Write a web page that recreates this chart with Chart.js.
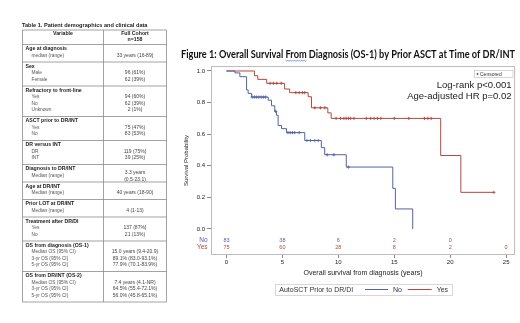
<!DOCTYPE html>
<html><head><meta charset="utf-8">
<script src="https://cdn.jsdelivr.net/npm/chart.js@4/dist/chart.umd.min.js"></script>
<style>html,body{margin:0;padding:0;background:#fff;overflow:hidden}#wrap{position:relative;width:520px;height:323px}</style>
</head><body><div id="wrap"><canvas id="c" width="520" height="323"></canvas></div>
<script>
// ---- Kaplan-Meier data ----
const noTimes  = [0, 0.76, 1.2, 1.8, 1.94, 2.25, 3.73, 4.03, 4.32, 4.47, 4.62, 4.92, 5.37, 7.0, 8.48, 8.78, 10.71, 14.87, 15.1, 16.65];
const noSurv   = [1.0, 0.988, 0.964, 0.88, 0.858, 0.835, 0.815, 0.78, 0.745, 0.72, 0.655, 0.635, 0.61, 0.56, 0.515, 0.47, 0.392, 0.257, 0.127, 0.0];
const yesTimes = [0, 2.5, 2.8, 3.6, 5.2, 5.65, 7.3, 7.6, 9.06, 9.36, 19.15, 20.95, 23.9];
const yesSurv  = [1.0, 0.97, 0.947, 0.922, 0.886, 0.863, 0.837, 0.767, 0.735, 0.70, 0.465, 0.232, 0.232];
const noCensor  = [2.3, 2.5, 2.7, 2.9, 3.1, 3.3, 3.5, 4.4, 5.5, 5.7, 5.9, 6.1, 6.5, 7.2, 7.5, 7.9, 8.2, 9.0, 9.6, 10.9];
const yesCensor = [3.9, 4.2, 4.5, 4.9, 6.2, 6.5, 6.8, 7.0, 7.9, 8.4, 8.8, 9.8, 10.2, 10.5, 10.7, 10.9, 11.1, 11.4, 12.5, 12.9, 13.2, 13.5, 13.8, 15.0, 16.3, 17.7, 18.0, 18.3, 23.9];
const riskTimes = [0, 5, 10, 15, 20, 25];
const riskNo  = [83, 38, 6, 2, 0];
const riskYes = [75, 60, 28, 8, 2, 0];
const xTicks = [0, 5, 10, 15, 20, 25];
const yTicks = [0, 0.2, 0.4, 0.6, 0.8, 1.0];
const groupNames = ["No", "Yes"];

// ---- Table data ----
const tableTitle = "Table 1. Patient demographics and clinical data";
const tableHeader = ["Variable", "Full Cohort", "n=158"];
const tableGroups = ["Age at diagnosis", "Sex", "Refractory to front-line", "ASCT prior to DR/INT", "DR versus INT", "Diagnosis to DR/INT", "Age at DR/INT", "Prior LOT at DR/INT", "Treatment after DR/DI", "OS from diagnosis (OS-1)", "OS from DR/INT (OS-2)"];
const tableSubs = [["median (range)"], ["Male", "Female"], ["Yes", "No", "Unknown"], ["Yes", "No"], ["DR", "INT"], ["Median (range)"], ["Median (range)"], ["Median (range)"], ["Yes", "No"], ["Median OS (95% CI)", "3-yr OS (95% CI)", "5-yr OS (95% CI)"], ["Median OS (95% CI)", "3-yr OS (95% CI)", "5-yr OS (95% CI)"]];
const tableVals = [["33 years (16-89)"], ["96 (61%)", "62 (39%)"], ["94 (60%)", "62 (39%)", "2 (1%)"], ["75 (47%)", "83 (53%)"], ["119 (75%)", "39 (25%)"], ["3.3 years", "(0.5-23.1)"], ["40 years (18-90)"], ["4 (1-13)"], ["137 (87%)", "21 (13%)"], ["15.0 years (9.4-20.9)", "89.1% (83.0-93.1%)", "77.9% (70.1-83.9%)"], ["7.4 years (4.1-NR)", "64.5% (55.4-72.1%)", "56.0% (45.8-65.1%)"]];

const figTitle = "Figure 1: Overall Survival From Diagnosis (OS-1) by Prior ASCT at Time of DR/INT";
const statLines = ["Log-rank p<0.001", "Age-adjusted HR p=0.02"];

const BLUE = '#5262a6', RED = '#b5473c';
const FONT = 'Liberation Sans, Arial, sans-serif';

function survAt(t, times, surv) { let s = surv[0]; for (let i = 0; i < times.length; i++) { if (times[i] <= t) s = surv[i]; } return s; }
const toPts = (t, s) => t.map((v, i) => ({x: v, y: s[i]}));

function drawTable(ctx) {
  const L = 22.5, M = 103.5, R = 166.5, top = 30, headBot = 44.5, lineH = 6.5;
  ctx.save();
  ctx.fillStyle = '#222'; ctx.textBaseline = 'middle';
  ctx.font = 'bold 5.6px ' + FONT; ctx.textAlign = 'left';
  ctx.fillText(tableTitle, 22, 25.3);
  ctx.textAlign = 'center'; ctx.font = 'bold 5.2px ' + FONT;
  ctx.fillText(tableHeader[0], (L + M) / 2, 34);
  ctx.fillText(tableHeader[1], (M + R) / 2, 34);
  ctx.fillText(tableHeader[2], (M + R) / 2, 40);
  let y = headBot;
  const hLines = [top, headBot];
  tableGroups.forEach((g, i) => {
    const subs = tableSubs[i], vals = tableVals[i];
    const h = 11 + lineH * subs.length;
    ctx.textAlign = 'left'; ctx.fillStyle = '#222'; ctx.font = 'bold 5.2px ' + FONT;
    ctx.fillText(g, 25.5, y + 4.3);
    ctx.font = '4.8px ' + FONT; ctx.fillStyle = '#555';
    subs.forEach((s, j) => ctx.fillText(s, 31.5, y + 4.3 + lineH * (j + 1)));
    const midSub = y + 4.3 + lineH * ((subs.length + 1) / 2);
    ctx.textAlign = 'center'; ctx.fillStyle = '#444'; ctx.font = '5px ' + FONT;
    const v0 = midSub - lineH * (vals.length - 1) / 2;
    vals.forEach((v, j) => ctx.fillText(v, (M + R) / 2, v0 + lineH * j + (vals.length !== subs.length ? 0.8 : 0)));
    y += h;
    hLines.push(y);
  });
  ctx.strokeStyle = '#8a8a8a'; ctx.lineWidth = 0.8;
  hLines.forEach(v => { ctx.beginPath(); ctx.moveTo(L, v); ctx.lineTo(R, v); ctx.stroke(); });
  ctx.beginPath(); ctx.moveTo(L, top); ctx.lineTo(L, y); ctx.moveTo(M, top); ctx.lineTo(M, y); ctx.moveTo(R, top); ctx.lineTo(R, y); ctx.stroke();
  ctx.restore();
}

const overlay = {
  id: 'overlay',
  beforeDraw(chart) {
    const ctx = chart.ctx;
    ctx.save(); ctx.fillStyle = '#fff'; ctx.fillRect(0, 0, chart.width, chart.height); ctx.restore();
    drawTable(ctx);
    // figure title, fitted to the width of the original
    ctx.save();
    ctx.font = 'bold 10.5px Lato, "Open Sans", sans-serif';
    const w = ctx.measureText(figTitle).width;
    const sx = 334 / w;
    ctx.translate(181, 54.5); ctx.scale(sx, 1);
    ctx.fillStyle = '#111'; ctx.textBaseline = 'middle'; ctx.textAlign = 'left';
    ctx.fillText(figTitle, 0, 0);
    const pre = ctx.measureText(figTitle.slice(0, figTitle.indexOf('From'))).width;
    const fw = ctx.measureText('From').width;
    ctx.strokeStyle = '#4a78c8'; ctx.lineWidth = 0.8;
    ctx.beginPath();
    for (let k = 0; k <= fw; k += 1) { const yy = 6.0 + ((k % 2) ? 0.6 : -0.2); if (k === 0) ctx.moveTo(pre + k, yy); else ctx.lineTo(pre + k, yy); }
    ctx.stroke();
    ctx.restore();
  },
  afterDraw(chart) {
    const ctx = chart.ctx, xs = chart.scales.x, ys = chart.scales.y, a = chart.chartArea;
    ctx.save();
    // frame
    ctx.strokeStyle = '#bdbdbd'; ctx.lineWidth = 1;
    ctx.strokeRect(a.left + 0.5, a.top + 0.5, a.right - a.left - 1, a.bottom - a.top - 1);
    // at-risk rows
    const rowNo = ys.getPixelForValue(-0.0715), rowYes = ys.getPixelForValue(-0.118);
    ctx.textBaseline = 'middle'; ctx.textAlign = 'center'; ctx.font = '5.5px ' + FONT;
    ctx.fillStyle = BLUE; riskNo.forEach((n, i) => ctx.fillText(String(n), xs.getPixelForValue(riskTimes[i]), rowNo));
    ctx.fillStyle = RED; riskYes.forEach((n, i) => ctx.fillText(String(n), xs.getPixelForValue(riskTimes[i]), rowYes));
    ctx.textAlign = 'right'; ctx.font = '6.5px ' + FONT;
    ctx.fillStyle = BLUE; ctx.fillText(groupNames[0], 207.5, rowNo);
    ctx.fillStyle = RED; ctx.fillText(groupNames[1], 207.5, rowYes);
    // censored key
    ctx.strokeStyle = '#cccccc'; ctx.lineWidth = 0.8;
    ctx.strokeRect(474.5, 70.5, 38.5, 7);
    ctx.strokeStyle = '#333'; ctx.lineWidth = 0.6;
    ctx.beginPath(); ctx.moveTo(476.3, 74); ctx.lineTo(478.7, 74); ctx.moveTo(477.5, 72.8); ctx.lineTo(477.5, 75.2); ctx.stroke();
    ctx.fillStyle = '#333'; ctx.textAlign = 'left'; ctx.font = '5px ' + FONT;
    ctx.fillText('Censored', 480, 74.2);
    // statistics
    ctx.fillStyle = '#222'; ctx.textAlign = 'right'; ctx.font = '9.5px ' + FONT;
    ctx.fillText(statLines[0], 511.5, 85);
    ctx.fillText(statLines[1], 511.5, 96.5);
    // legend
    ctx.strokeStyle = '#cfcfcf'; ctx.lineWidth = 0.8;
    ctx.strokeRect(275.5, 284.5, 177, 11);
    ctx.fillStyle = '#333'; ctx.textAlign = 'left'; ctx.font = '7px ' + FONT;
    ctx.fillText('AutoSCT Prior to DR/DI', 279.3, 290);
    ctx.lineWidth = 1;
    ctx.strokeStyle = BLUE; ctx.beginPath(); ctx.moveTo(365, 289.5); ctx.lineTo(388, 289.5); ctx.stroke();
    ctx.fillText(groupNames[0], 393, 290);
    ctx.strokeStyle = RED; ctx.beginPath(); ctx.moveTo(407.7, 289.5); ctx.lineTo(431.7, 289.5); ctx.stroke();
    ctx.fillText(groupNames[1], 436.7, 290);
    ctx.restore();
  }
};

new Chart(document.getElementById('c'), {
  type: 'line',
  data: {
    datasets: [
      {label: 'No', data: toPts(noTimes, noSurv), borderColor: BLUE, borderWidth: 1, stepped: true, pointRadius: 0, fill: false},
      {label: 'Yes', data: toPts(yesTimes, yesSurv), borderColor: RED, borderWidth: 1, stepped: true, pointRadius: 0, fill: false},
      {label: 'No censored', data: noCensor.map(t => ({x: t, y: survAt(t, noTimes, noSurv)})), showLine: false, pointStyle: 'cross', pointRadius: 1.6, pointBorderColor: BLUE, pointBorderWidth: 0.9},
      {label: 'Yes censored', data: yesCensor.map(t => ({x: t, y: survAt(t, yesTimes, yesSurv)})), showLine: false, pointStyle: 'cross', pointRadius: 1.6, pointBorderColor: RED, pointBorderWidth: 0.9}
    ]
  },
  options: {
    responsive: false, animation: false, devicePixelRatio: 1,
    layout: {padding: {left: 181, right: 4, top: 66, bottom: 40}},
    plugins: {legend: {display: false}, tooltip: {enabled: false}},
    scales: {
      x: {
        type: 'linear', min: -1.38, max: 25.8,
        afterBuildTicks: s => { s.ticks = xTicks.map(v => ({value: v})); },
        afterFit: s => { s.height = 28; },
        grid: {drawOnChartArea: false, drawTicks: true, tickLength: 3, color: '#888'},
        border: {display: false},
        ticks: {font: {family: FONT, size: 6}, color: '#222', padding: 1, maxRotation: 0, autoSkip: false},
        title: {display: true, text: 'Overall survival from diagnosis (years)', font: {family: FONT, size: 7}, color: '#222', padding: {top: 0, bottom: 5.5}}
      },
      y: {
        type: 'linear', min: -0.1646, max: 1.0316,
        afterBuildTicks: s => { s.ticks = yTicks.map(v => ({value: v})); },
        afterFit: s => { s.width = 30; },
        grid: {drawOnChartArea: false, drawTicks: true, tickLength: 4, color: '#888'},
        border: {display: false},
        ticks: {font: {family: FONT, size: 6}, color: '#222', padding: 2, callback: v => Number(v).toFixed(1)},
        title: {display: true, text: 'Survival Probability', font: {family: FONT, size: 6}, color: '#222', padding: {top: 1.9, bottom: 0}}
      }
    }
  },
  plugins: [overlay]
});
</script></body></html>
